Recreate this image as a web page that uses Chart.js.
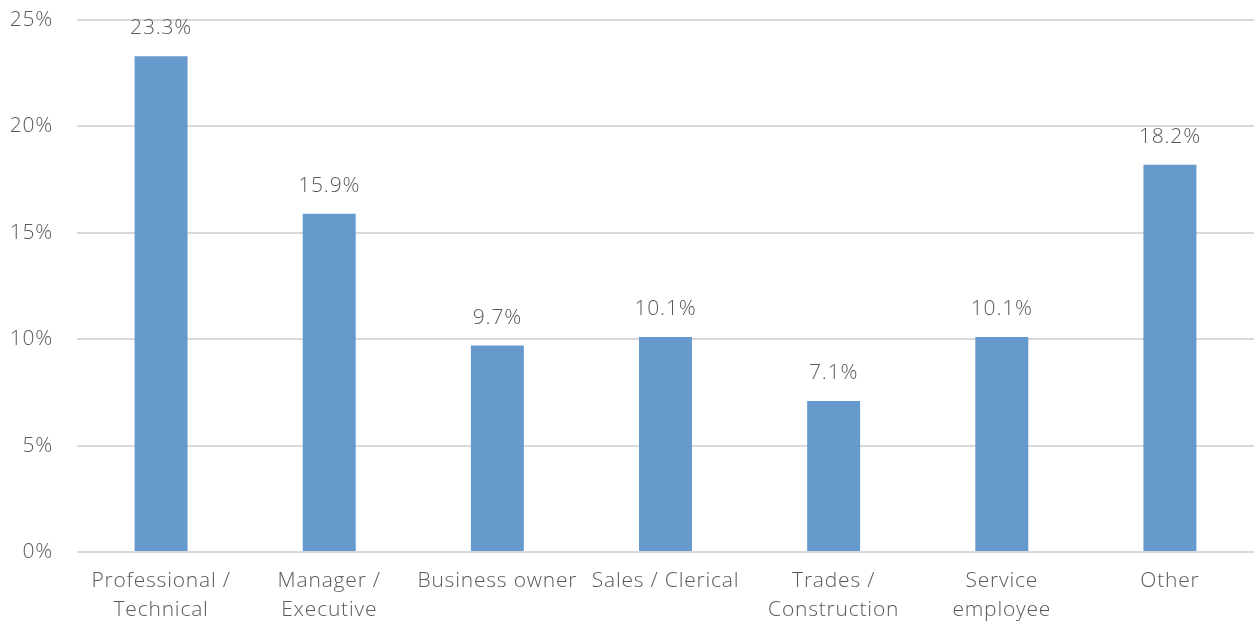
<!DOCTYPE html>
<html>
<head>
<meta charset="utf-8">
<script src="https://cdn.jsdelivr.net/npm/chart.js@4/dist/chart.umd.min.js"></script>
<style>
  html, body { margin: 0; padding: 0; background: #ffffff; }
  #wrap { width: 1254px; height: 623px; }
</style>
</head>
<body>
<div id="wrap"><canvas id="chart" width="1254" height="623"></canvas></div>
<script>
// Occupation categories (two-line labels where wrapped)
const categories = [
  ['Professional /', 'Technical'],
  ['Manager /', 'Executive'],
  'Business owner',
  'Sales / Clerical',
  ['Trades /', 'Construction'],
  ['Service', 'employee'],
  'Other'
];
// Share of respondents, percent
const shares = [23.3, 15.9, 9.7, 10.1, 7.1, 10.1, 18.2];
// Axis tick values, percent
const yTicks = [0, 5, 10, 15, 20, 25];

const textColor = '#595959';
const fontFamily = '"Open Sans", "Noto Sans", sans-serif';

// Slightly open tracking for all chart text
const textTracking = {
  id: 'textTracking',
  beforeDraw(chart) {
    chart.ctx.letterSpacing = '0.8px';
  }
};

// Writes each bar's value above it
const valueLabels = {
  id: 'valueLabels',
  afterDatasetsDraw(chart) {
    const ctx = chart.ctx;
    const meta = chart.getDatasetMeta(0);
    ctx.save();
    ctx.letterSpacing = '0.8px';
    ctx.font = '300 21px ' + fontFamily;
    ctx.fillStyle = textColor;
    ctx.textAlign = 'center';
    ctx.textBaseline = 'middle';
    meta.data.forEach((bar, i) => {
      ctx.fillText(shares[i].toFixed(1) + '%', bar.x, bar.y - 28);
    });
    ctx.restore();
  }
};

new Chart(document.getElementById('chart'), {
  type: 'bar',
  data: {
    labels: categories,
    datasets: [{
      data: shares,
      backgroundColor: '#6699cc',
      categoryPercentage: 1,
      barPercentage: 0.315
    }]
  },
  options: {
    responsive: false,
    animation: false,
    layout: { padding: { top: 0, right: 0, left: 0, bottom: 0 } },
    plugins: { legend: { display: false }, tooltip: { enabled: false } },
    scales: {
      x: {
        grid: { display: false, drawTicks: false },
        border: { display: false },
        ticks: {
          color: textColor,
          font: { family: fontFamily, size: 21, weight: 300, lineHeight: 1.35 },
          padding: 15,
          maxRotation: 0,
          autoSkip: false
        },
        afterFit(scale) { scale.height = 71; }
      },
      y: {
        min: 0,
        max: 25,
        afterBuildTicks(scale) { scale.ticks = yTicks.map(v => ({ value: v })); },
        grid: { color: '#d9d9d9', lineWidth: 2, drawTicks: false },
        border: { display: false },
        ticks: {
          color: textColor,
          font: { family: fontFamily, size: 21, weight: 300 },
          padding: 24,
          callback: v => v + '%'
        },
        afterFit(scale) {
          scale.width = 77;
          scale.paddingTop = 20;
        }
      }
    }
  },
  plugins: [textTracking, valueLabels]
});
</script>
</body>
</html>
